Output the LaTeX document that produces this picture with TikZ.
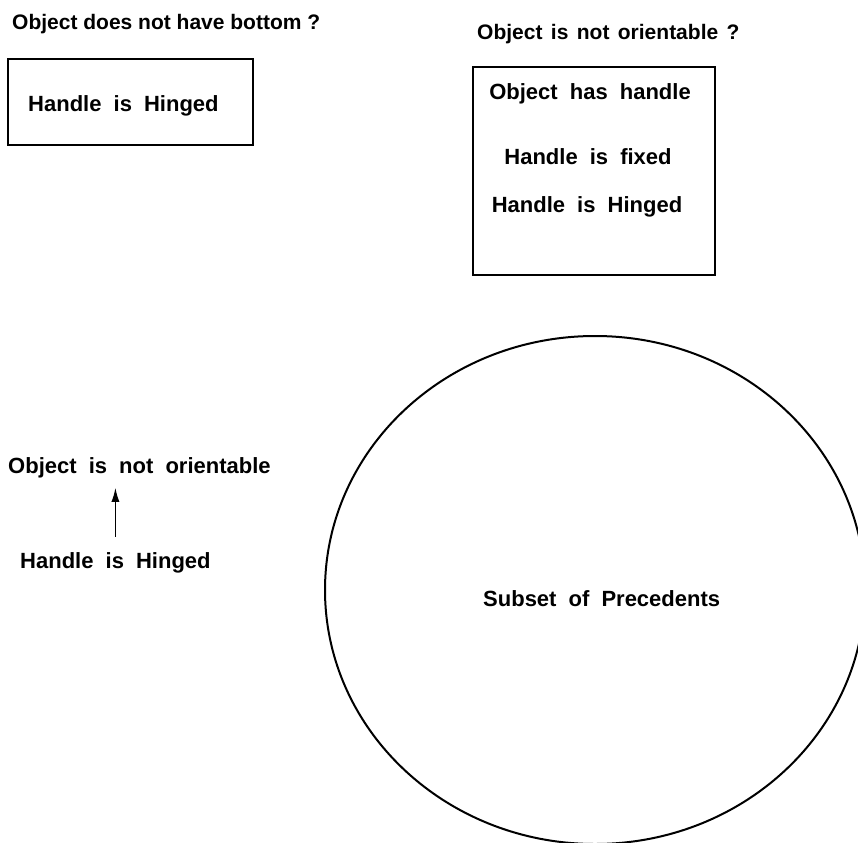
\documentclass[tikz,border=0pt]{standalone}
\usepackage{fontspec}
\setmainfont{Liberation Sans}
\usetikzlibrary{shapes.geometric,arrows.meta}
\begin{document}
\begin{tikzpicture}[x=1pt,y=-1pt,
  titletxt/.style={inner sep=0pt, font=\fontsize{21}{25}\selectfont\bfseries},
  titlewide/.style={inner sep=0pt, font=\fontsize{21}{25}\selectfont\bfseries, execute at begin node={\spaceskip=0.4em\relax}},
  bodytxt/.style={inner sep=0pt, font=\fontsize{22}{26}\selectfont\bfseries, execute at begin node={\spaceskip=0.55em\relax}},
  framebox/.style={draw, line width=1.5pt, inner sep=0pt, rectangle},
  uparrow/.style={-{Latex[length=14pt,width=8pt]}, line width=1.4pt}
]
\useasboundingbox (0,0) rectangle (858,842);

% top-left
\node[titletxt, anchor=base west] (t1) at (12,30) {Object does not have bottom ?};
\node[framebox, minimum width=245pt, minimum height=86pt] (b1) at (130.5,102) {};
\node[bodytxt, anchor=base west] (b1t) at (28,112) {Handle is Hinged};

% top-right
\node[titlewide, anchor=base west] (t2) at (477,40) {Object is not orientable ?};
\node[framebox, minimum width=242pt, minimum height=208pt] (b2) at (594,171) {};
\node[bodytxt, anchor=base] (b2a) at (590,100) {Object has handle};
\node[bodytxt, anchor=base] (b2b) at (588,165) {Handle is fixed};
\node[bodytxt, anchor=base] (b2c) at (587,213) {Handle is Hinged};

% left: implication
\node[bodytxt, anchor=base west] (o3) at (8,473) {Object is not orientable};
\node[bodytxt, anchor=base west] (h3) at (20,568) {Handle is Hinged};
\draw[uparrow, shorten <=15pt, shorten >=10pt] (h3.north) -- (h3.north |- o3.south);

% circle
\node[draw, ellipse, line width=2pt, inner sep=0pt, minimum width=540pt, minimum height=508pt] (c) at (595,590) {};
\node[bodytxt, anchor=base west] (ct) at (483,606) {Subset of Precedents};
\end{tikzpicture}
\end{document}
